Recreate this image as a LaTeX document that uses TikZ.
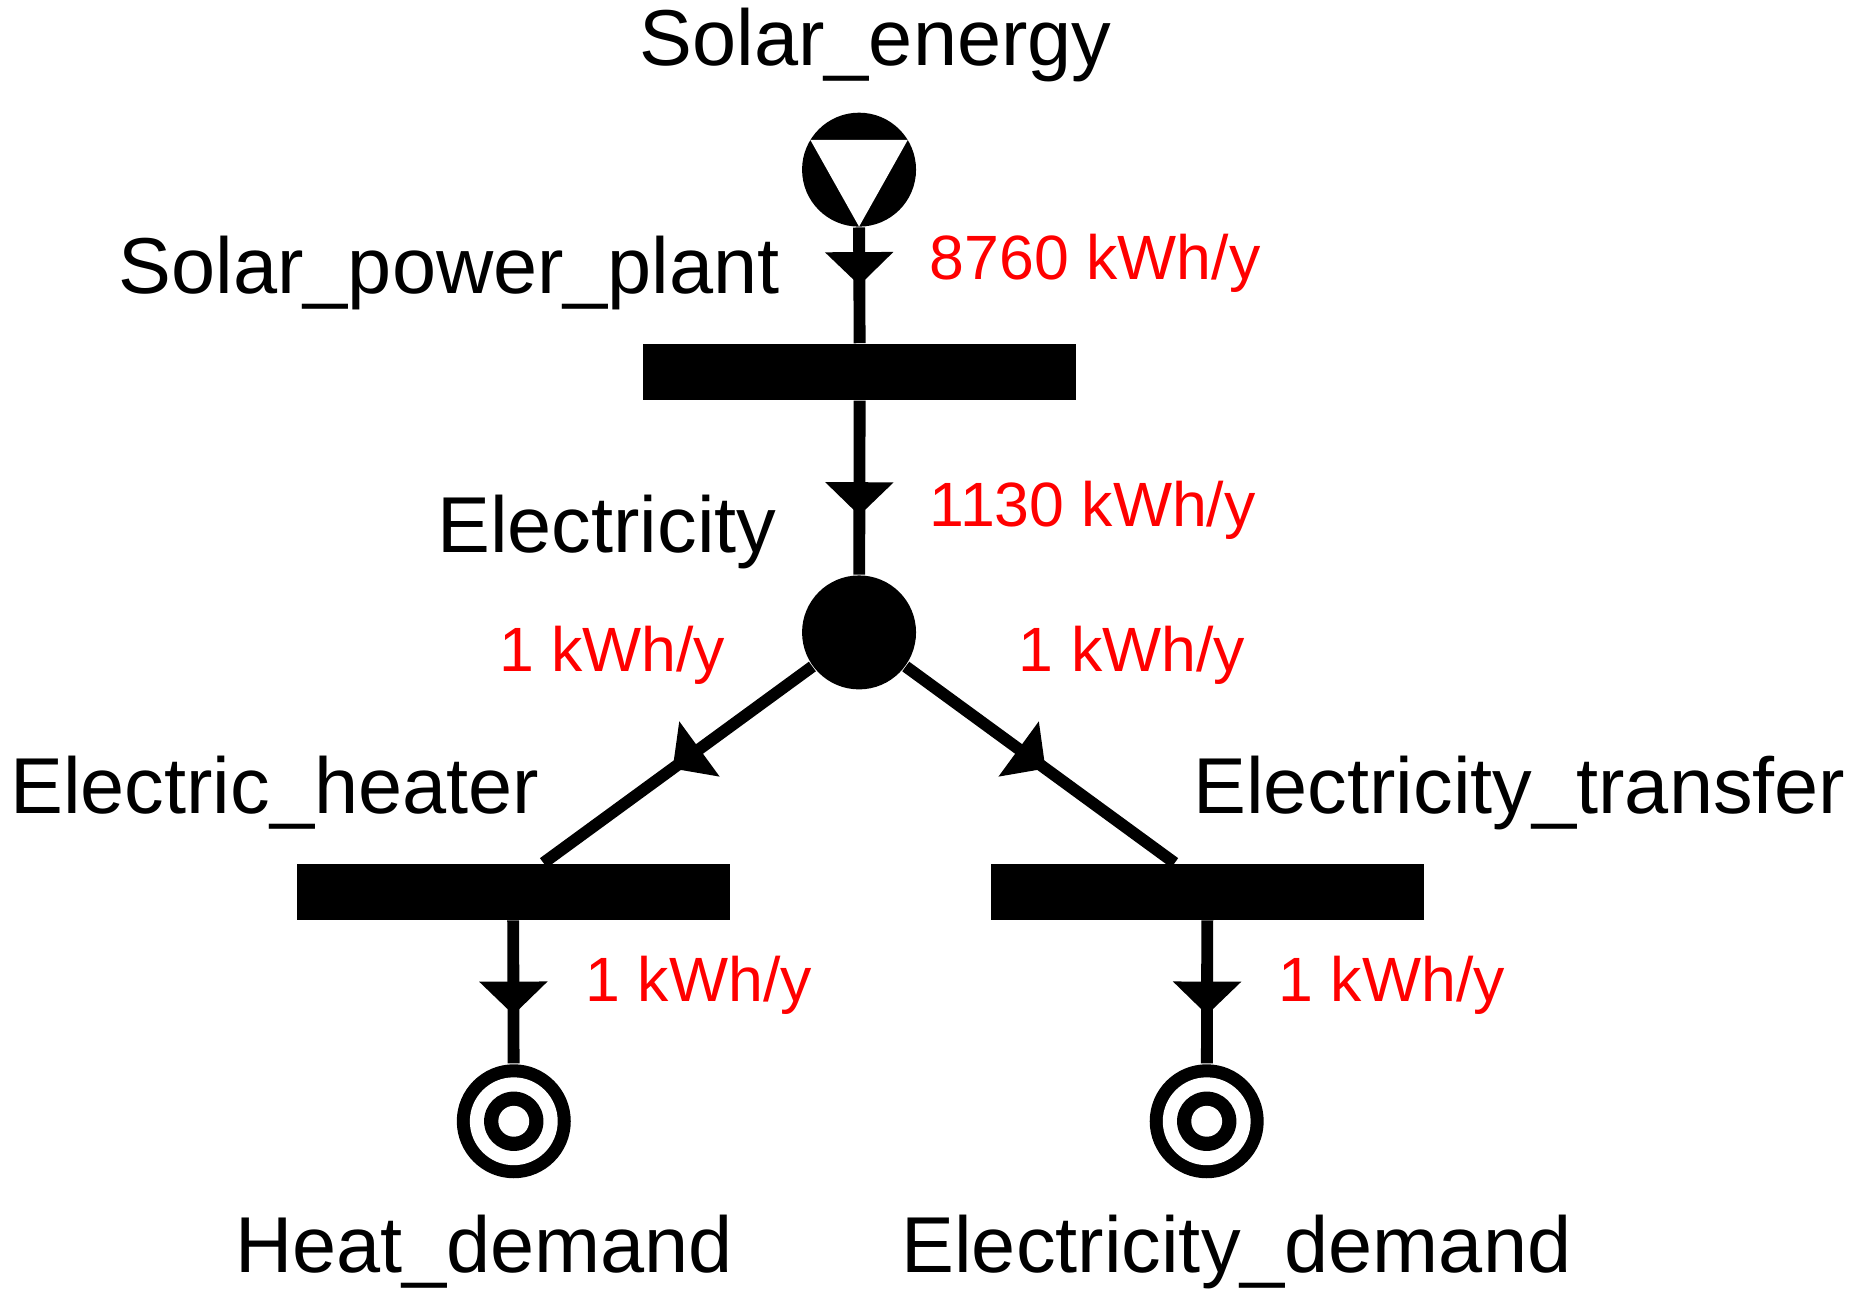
\documentclass[tikz,border=0pt]{standalone}
\usepackage{fontspec}
\setmainfont{Liberation Sans}
\usetikzlibrary{arrows.meta,decorations.markings}
\begin{document}
\begin{tikzpicture}[x=0.01cm,y=-0.01cm,
  place/.style={circle,fill=black,minimum size=0.96cm,inner sep=0},
  bar/.style={rectangle,fill=black,minimum width=3.65cm,minimum height=0.47cm,inner sep=0},
  lbl/.style={font=\fontsize{19}{22}\selectfont,inner sep=0},
  flow/.style={red,font=\fontsize{15}{18}\selectfont,inner sep=0,anchor=west},
  arc/.style={line width=0.1cm,postaction={decorate},decoration={markings,mark=at position #1 with {\arrow{Triangle[width=0.56cm,length=0.28cm]}}}}]
\useasboundingbox (0,0) rectangle (1560,1095);
\node[place] (src) at (724,143) {};
\fill[white] (683,118) -- (765,118) -- (724,191) -- cycle;
\node[bar] (b1) at (724.5,313.5) {};
\node[place] (el) at (724,533) {};
\node[bar] (b2) at (432.5,751.5) {};
\node[bar] (b3) at (1017.5,751.5) {};
\foreach \n/\x in {s1/433,s2/1017}{
  \node[place] (\n) at (\x,945) {};
  \fill[white] (\x,945) circle[radius=0.37cm];
  \fill[black] (\x,945) circle[radius=0.25cm];
  \fill[white] (\x,945) circle[radius=0.13cm];
}
\draw[arc=0.5] (src.south) -- (b1.north);
\draw[arc=0.66] (b1.south) -- (el);
\draw[arc=0.52] (el) -- ([xshift=0.255cm]b2.north);
\draw[arc=0.52] (el) -- ([xshift=-0.275cm]b3.north);
\draw[arc=0.66] (b2.south) -- (s1);
\draw[arc=0.66] (b3.south) -- (s2);
\node[lbl] (t1) at (738,38) {Solar\_energy};
\node[lbl,anchor=east] (t2) at (658,230) {Solar\_power\_plant};
\node[lbl,anchor=east] (t3) at (655,448) {Electricity};
\node[lbl,anchor=west] (t4) at (8,668) {Electric\_heater};
\node[lbl,anchor=west] (t5) at (1005,668) {Electricity\_transfer};
\node[lbl] (t6) at (408,1055) {Heat\_demand};
\node[lbl] (t7) at (1042,1055) {Electricity\_demand};
\node[flow] (f1) at (783,222) {8760 kWh/y};
\node[flow] (f2) at (783,430) {1130 kWh/y};
\node[flow] (f3) at (420,552) {1 kWh/y};
\node[flow] (f4) at (858,552) {1 kWh/y};
\node[flow] (f5) at (493,830) {1 kWh/y};
\node[flow] (f6) at (1077,830) {1 kWh/y};
\end{tikzpicture}
\end{document}
